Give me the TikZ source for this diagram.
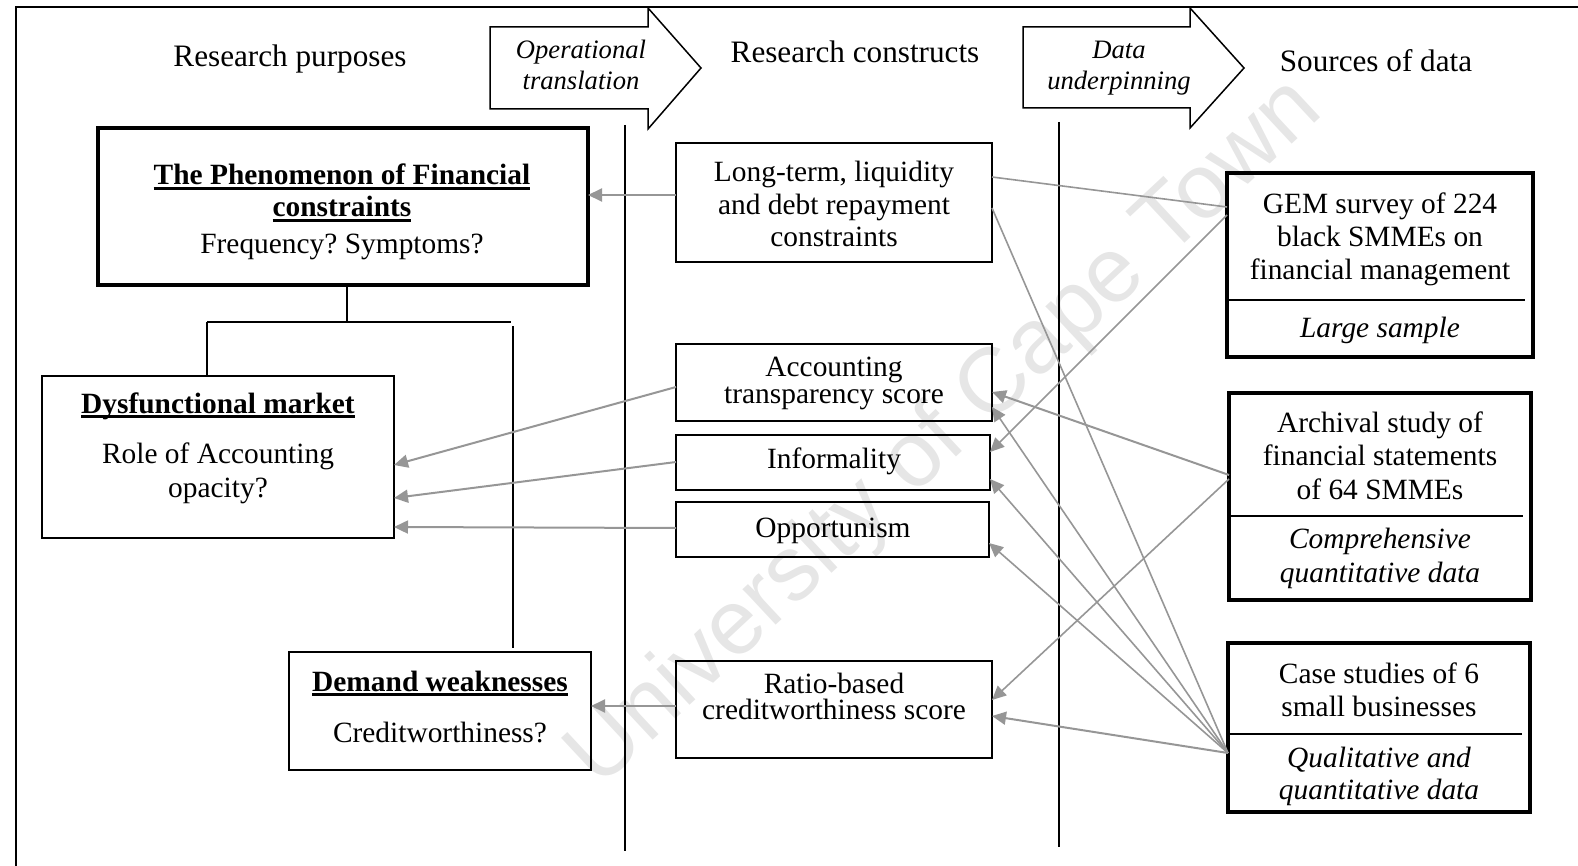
\documentclass[tikz,border=0pt]{standalone}
\usepackage{fontspec}
\setmainfont{Liberation Serif}
\newfontfamily\markfont{Liberation Sans}
\usetikzlibrary{arrows.meta,fit}
\definecolor{linkgray}{HTML}{969696}
\definecolor{markgray}{HTML}{E6E6E6}
\newlength\ulwd
\newcommand\ulbold[1]{\settowidth\ulwd{\textbf{#1}}\rlap{\rule[-2.3pt]{\ulwd}{1.15pt}}\textbf{#1}}
\frenchspacing

\begin{document}
\begin{tikzpicture}[x=0.5pt,y=-0.5pt,
  frame/.style={line width=1pt},
  box/.style={draw, line width=0.85pt, inner sep=0pt, outer sep=0pt},
  thickbox/.style={draw, line width=1.6pt, inner sep=0pt, outer sep=0pt},
  % multi-line texts are placed by the baseline of their last line
  txt/.style={inner sep=0pt, anchor=base, align=center, font=\fontsize{14.7}{16.5}\selectfont},
  itxt/.style={txt, font=\fontsize{14.7}{16.5}\selectfont\itshape},
  head/.style={inner sep=0pt, anchor=base, font=\fontsize{15.6}{18}\selectfont},
  arrtxt/.style={inner sep=0pt, anchor=base, align=center, font=\fontsize{13.3}{15.5}\selectfont\itshape},
  link/.style={draw=linkgray, line width=1pt, -{Triangle[length=7pt,width=6.5pt]}},
  fan/.style={link, line width=0.8pt},
  bigarrow/.style={draw, line width=0.75pt, line join=miter}
]
\useasboundingbox (0,0) rectangle (1578,866);

% faint watermark behind everything
\node[font=\markfont\fontsize{46}{46}\selectfont, text=markgray, rotate=43, inner sep=0pt] (mark) at (946,434) {University of Cape Town};

% outer frame
\draw[frame] (1578,7) -- (16,7) -- (16,866);

% block arrows between the columns
\draw[bigarrow] (490,27) -- (648,27) -- (648,8) -- (701,68) -- (648,129) -- (648,109) -- (490,109) -- cycle;
\draw[bigarrow] (1023,27) -- (1190,27) -- (1190,8) -- (1244,68) -- (1190,128) -- (1190,108) -- (1023,108) -- cycle;
\node[arrtxt] (op) at (581,90) {Operational\\translation};
\node[arrtxt] (du) at (1119,90) {Data\\underpinning};

% column headings
\node[head] (hp) at (290,67) {Research purposes};
\node[head] (hc) at (855,63) {Research constructs};
\node[head] (hs) at (1376,72) {Sources of data};

% column separators
\draw[frame] (625,125) -- (625,851);
\draw[frame] (1059,122) -- (1059,847);

% research purposes
\node[thickbox, fit={(98,128) (588,285)}] (phen) {};
\node[box, fit={(42,376) (394,538)}] (dys) {};
\node[box, fit={(289,652) (591,770)}] (dem) {};
\node[txt, font=\fontsize{14.7}{16}\selectfont] (phenT) at (342,217) {\ulbold{The Phenomenon of Financial}\\\ulbold{constraints}};
\node[txt] (phenQ) at (342,254) {Frequency? Symptoms?};
\node[txt] (dysT) at (218,413) {\ulbold{Dysfunctional market}};
\node[txt, font=\fontsize{14.7}{17}\selectfont] (dysQ) at (218,497) {Role of Accounting\\opacity?};
\node[txt] (demT) at (440,691) {\ulbold{Demand weaknesses}};
\node[txt] (demQ) at (440,742) {Creditworthiness?};

% research constructs
\node[box, fit={(676,143) (992,262)}] (lt) {};
\node[box, fit={(676,344) (992,421)}] (acc) {};
\node[box, fit={(676,435) (990,490)}] (inf) {};
\node[box, fit={(676,502) (989,557)}] (opp) {};
\node[box, fit={(676,661) (992,758)}] (rat) {};
\node[txt, font=\fontsize{14.7}{16.25}\selectfont] (ltT) at (834,247) {Long-term, liquidity\\and debt repayment\\constraints};
\node[txt, font=\fontsize{14.7}{13.5}\selectfont] (accT) at (834,403) {Accounting\\transparency score};
\node[txt] (infT) at (834,468) {Informality};
\node[txt] (oppT) at (833,537) {Opportunism};
\node[txt, font=\fontsize{14.7}{13}\selectfont] (ratT) at (834,719) {Ratio-based\\creditworthiness score};

% sources of data
\node[thickbox, fit={(1227,173) (1533,357)}] (gem) {};
\node[thickbox, fit={(1229,393) (1531,600)}] (arc) {};
\node[thickbox, fit={(1228,643) (1530,812)}] (cas) {};
\draw[line width=0.85pt] (gem.west |- 0,300) -- ([xshift=-4pt]gem.east |- 0,300);
\draw[line width=0.85pt] (arc.west |- 0,516) -- ([xshift=-4pt]arc.east |- 0,516);
\draw[line width=0.85pt] (cas.west |- 0,734) -- ([xshift=-4pt]cas.east |- 0,734);
\node[txt] (gemT) at (1380,279) {GEM survey of 224\\black SMMEs on\\financial management};
\node[itxt] (gemS) at (1380,337) {Large sample};
\node[txt, font=\fontsize{14.7}{16.75}\selectfont] (arcT) at (1380,499) {Archival study of\\financial statements\\of 64 SMMEs};
\node[itxt, font=\fontsize{14.7}{17}\selectfont\itshape] (arcS) at (1380,582) {Comprehensive\\quantitative data};
\node[txt] (casT) at (1379,716) {Case studies of 6\\small businesses};
\node[itxt, font=\fontsize{14.7}{16}\selectfont\itshape] (casS) at (1379,799) {Qualitative and\\quantitative data};

% hierarchy below the phenomenon
\coordinate (jn) at (347,322);
\coordinate (tl) at (207,322);
\coordinate (tr) at (511,322);
\draw[frame] (phen.south -| jn) -- (jn);
\draw[frame] (tl) -- (tr);
\draw[frame] (tl) -- (dys.north -| tl);
\draw[frame] (513,326) -- ([yshift=2pt]dem.north -| 513,0);

% operational translation: constructs -> purposes
\draw[link] (lt.west |- 0,195) -- (phen.east |- 0,195);
\draw[link] (acc.west |- 0,387) -- (dys.east |- 0,465);
\draw[link] (inf.west |- 0,462) -- (dys.east |- 0,498);
\draw[link] (opp.west |- 0,528) -- (dys.east |- 0,527);
\draw[link] (rat.west |- 0,706) -- (dem.east |- 0,706);

% data underpinning: sources -> constructs
\coordinate (casOut) at (cas.west |- 0,753);
\draw[fan, -] (gem.west |- 0,207) -- (lt.east |- 0,177);
\draw[fan] (gem.west |- 0,215) -- (inf.east |- 0,452);
\draw[link] (arc.west |- 0,475) -- (acc.east |- 0,392);
\draw[fan] (arc.west |- 0,479) -- (rat.east |- 0,700);
\draw[fan, -] (casOut) -- (lt.east |- 0,208);
\draw[fan] (casOut) -- (acc.east |- 0,407);
\draw[fan] (casOut) -- (inf.east |- 0,479);
\draw[fan] (casOut) -- (opp.east |- 0,543);
\draw[link] (casOut) -- (rat.east |- 0,716);
\end{tikzpicture}
\end{document}
